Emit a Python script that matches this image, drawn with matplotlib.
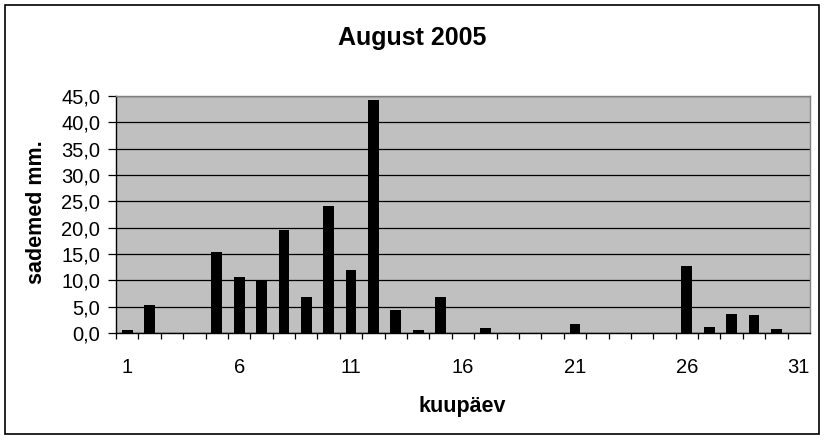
import matplotlib
matplotlib.use("Agg")
import matplotlib.pyplot as plt
from matplotlib.ticker import FixedLocator, FuncFormatter
from matplotlib.patches import Rectangle

days = list(range(1, 32))
precip = [0.5, 5.4, 0, 0, 15.3, 10.6, 9.8, 19.6, 6.9, 24.2, 11.9, 44.2, 4.3, 0.5, 6.8,
          0, 1.0, 0, 0, 0, 1.8, 0, 0, 0, 0, 12.8, 1.2, 3.7, 3.5, 0.8, 0]
xtick_days = [1, 6, 11, 16, 21, 26, 31]
yticks = [0, 5, 10, 15, 20, 25, 30, 35, 40, 45]
title = "August 2005"
xlabel = "kuupäev"
ylabel = "sademed mm."

plt.rcParams['font.family'] = ['Liberation Sans', 'DejaVu Sans']

fig = plt.figure(figsize=(8.26, 4.40), dpi=100)
fig.patch.set_facecolor('white')
# outer chart border
fig.patches.append(Rectangle((5/826, 1 - 434/440), (819-5)/826, (434-5)/440,
                             transform=fig.transFigure, fill=False,
                             edgecolor='black', linewidth=1.2))

ax = fig.add_axes([116/826, 1 - 333/440, (810-116)/826, (333-96)/440])
ax.set_facecolor('#C0C0C0')
ax.set_axisbelow(True)
ax.yaxis.grid(True, color='black', linewidth=0.9)

ax.bar(days, precip, width=0.48, color='black', zorder=3)

ax.set_xlim(0.5, 31.5)
ax.set_ylim(0, 45)
ax.set_yticks(yticks)
ax.yaxis.set_major_formatter(FuncFormatter(lambda v, p: f"{v:.1f}".replace('.', ',')))
ax.set_xticks(xtick_days)
ax.set_xticklabels([str(d) for d in xtick_days])
ax.xaxis.set_minor_locator(FixedLocator([d + 0.5 for d in range(0, 31)]))

ax.tick_params(axis='y', which='major', direction='out', length=5.5, width=0.9,
               labelsize=14.5, pad=6, color='black')
ax.tick_params(axis='x', which='major', length=0, labelsize=14.5, pad=18)
ax.tick_params(axis='x', which='minor', direction='out', length=4, width=0.9, color='black')

for s in ['left', 'bottom']:
    ax.spines[s].set_color('black')
    ax.spines[s].set_linewidth(1.0)
for s in ['top', 'right']:
    ax.spines[s].set_color('#808080')
    ax.spines[s].set_linewidth(1.0)

fig.text(412/826, 1 - 38/440, title, ha='center', va='center',
         fontsize=18, fontweight='bold')
fig.text(462/826, 1 - 406/440, xlabel, ha='center', va='center',
         fontsize=15.5, fontweight='bold')
fig.text(36/826, 1 - 212/440, ylabel, ha='center', va='center',
         fontsize=15.5, fontweight='bold', rotation=90)

fig.savefig("out.png", dpi=100)
